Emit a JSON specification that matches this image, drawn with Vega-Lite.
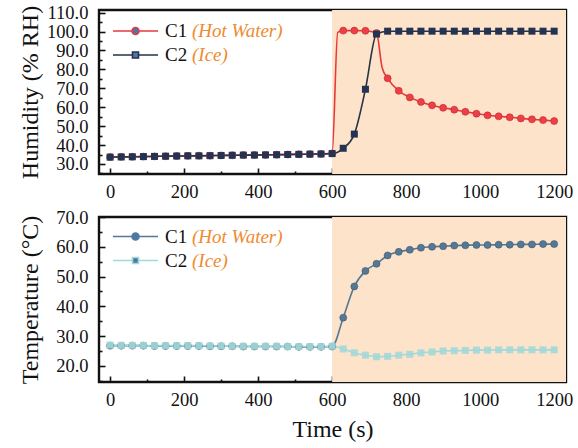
{
  "$schema": "https://vega.github.io/schema/vega-lite/v6.json",
  "padding": {"top": 2, "left": 17, "right": 6, "bottom": 2},
  "config": {
    "font": "Liberation Serif",
    "view": {"stroke": "#111111", "strokeWidth": 2.4},
    "axis": {
      "labelFont": "Liberation Serif", "labelFontSize": 18.5, "labelColor": "#111111",
      "titleFont": "Liberation Serif", "titleFontSize": 24, "titleFontWeight": "normal", "titleColor": "#111111",
      "domain": false, "grid": false, "tickColor": "#111111", "tickWidth": 1.6,
      "labelPadding": 14, "zindex": 1
    },
    "legend": {"labelFont": "Liberation Serif", "labelFontSize": 19, "labelColor": "#111111", "padding": 0}
  },
  "datasets": {
    "shade": [{"start": 600}],
    "keys": [{"key": "C1", "note": "(Hot Water)"}, {"key": "C2", "note": "(Ice)"}],
    "hum": [
      {"series": "C1", "t": 0, "v": 33.7}, {"series": "C1", "t": 30, "v": 33.8}, {"series": "C1", "t": 60, "v": 33.8},
      {"series": "C1", "t": 90, "v": 33.9}, {"series": "C1", "t": 120, "v": 34.0}, {"series": "C1", "t": 150, "v": 34.1},
      {"series": "C1", "t": 180, "v": 34.2}, {"series": "C1", "t": 210, "v": 34.3}, {"series": "C1", "t": 240, "v": 34.4},
      {"series": "C1", "t": 270, "v": 34.4}, {"series": "C1", "t": 300, "v": 34.5}, {"series": "C1", "t": 330, "v": 34.6},
      {"series": "C1", "t": 360, "v": 34.7}, {"series": "C1", "t": 390, "v": 34.8}, {"series": "C1", "t": 420, "v": 34.8},
      {"series": "C1", "t": 450, "v": 34.9}, {"series": "C1", "t": 480, "v": 35.0}, {"series": "C1", "t": 510, "v": 35.1},
      {"series": "C1", "t": 540, "v": 35.2}, {"series": "C1", "t": 570, "v": 35.3}, {"series": "C1", "t": 600, "v": 35.6},
      {"series": "C1", "t": 615, "v": 99.6}, {"series": "C1", "t": 630, "v": 100.5}, {"series": "C1", "t": 660, "v": 100.5},
      {"series": "C1", "t": 690, "v": 100.4}, {"series": "C1", "t": 720, "v": 99.2}, {"series": "C1", "t": 735, "v": 81.0},
      {"series": "C1", "t": 750, "v": 75.3}, {"series": "C1", "t": 780, "v": 68.7}, {"series": "C1", "t": 810, "v": 65.2},
      {"series": "C1", "t": 840, "v": 62.8}, {"series": "C1", "t": 870, "v": 61.0}, {"series": "C1", "t": 900, "v": 59.7},
      {"series": "C1", "t": 930, "v": 58.7}, {"series": "C1", "t": 960, "v": 57.6}, {"series": "C1", "t": 990, "v": 56.6},
      {"series": "C1", "t": 1020, "v": 55.7}, {"series": "C1", "t": 1050, "v": 55.2}, {"series": "C1", "t": 1080, "v": 54.7},
      {"series": "C1", "t": 1110, "v": 54.1}, {"series": "C1", "t": 1140, "v": 53.6}, {"series": "C1", "t": 1170, "v": 53.2},
      {"series": "C1", "t": 1200, "v": 52.7},
      {"series": "C2", "t": 0, "v": 33.6}, {"series": "C2", "t": 30, "v": 33.7}, {"series": "C2", "t": 60, "v": 33.8},
      {"series": "C2", "t": 90, "v": 33.9}, {"series": "C2", "t": 120, "v": 34.0}, {"series": "C2", "t": 150, "v": 34.1},
      {"series": "C2", "t": 180, "v": 34.2}, {"series": "C2", "t": 210, "v": 34.3}, {"series": "C2", "t": 240, "v": 34.3},
      {"series": "C2", "t": 270, "v": 34.4}, {"series": "C2", "t": 300, "v": 34.5}, {"series": "C2", "t": 330, "v": 34.6},
      {"series": "C2", "t": 360, "v": 34.7}, {"series": "C2", "t": 390, "v": 34.7}, {"series": "C2", "t": 420, "v": 34.8},
      {"series": "C2", "t": 450, "v": 34.9}, {"series": "C2", "t": 480, "v": 35.0}, {"series": "C2", "t": 510, "v": 35.1},
      {"series": "C2", "t": 540, "v": 35.2}, {"series": "C2", "t": 570, "v": 35.3}, {"series": "C2", "t": 600, "v": 35.5},
      {"series": "C2", "t": 630, "v": 38.3}, {"series": "C2", "t": 660, "v": 45.8}, {"series": "C2", "t": 690, "v": 69.5},
      {"series": "C2", "t": 720, "v": 98.7}, {"series": "C2", "t": 750, "v": 100.2}, {"series": "C2", "t": 780, "v": 100.2},
      {"series": "C2", "t": 810, "v": 100.2}, {"series": "C2", "t": 840, "v": 100.2}, {"series": "C2", "t": 870, "v": 100.2},
      {"series": "C2", "t": 900, "v": 100.2}, {"series": "C2", "t": 930, "v": 100.2}, {"series": "C2", "t": 960, "v": 100.2},
      {"series": "C2", "t": 990, "v": 100.2}, {"series": "C2", "t": 1020, "v": 100.2}, {"series": "C2", "t": 1050, "v": 100.2},
      {"series": "C2", "t": 1080, "v": 100.2}, {"series": "C2", "t": 1110, "v": 100.2}, {"series": "C2", "t": 1140, "v": 100.2},
      {"series": "C2", "t": 1170, "v": 100.2}, {"series": "C2", "t": 1200, "v": 100.2}
    ],
    "temp": [
      {"series": "C1", "t": 0, "v": 26.8}, {"series": "C1", "t": 30, "v": 26.8}, {"series": "C1", "t": 60, "v": 26.8},
      {"series": "C1", "t": 90, "v": 26.8}, {"series": "C1", "t": 120, "v": 26.7}, {"series": "C1", "t": 150, "v": 26.7},
      {"series": "C1", "t": 180, "v": 26.7}, {"series": "C1", "t": 210, "v": 26.7}, {"series": "C1", "t": 240, "v": 26.7},
      {"series": "C1", "t": 270, "v": 26.6}, {"series": "C1", "t": 300, "v": 26.6}, {"series": "C1", "t": 330, "v": 26.6},
      {"series": "C1", "t": 360, "v": 26.5}, {"series": "C1", "t": 390, "v": 26.5}, {"series": "C1", "t": 420, "v": 26.5},
      {"series": "C1", "t": 450, "v": 26.5}, {"series": "C1", "t": 480, "v": 26.5}, {"series": "C1", "t": 510, "v": 26.4},
      {"series": "C1", "t": 540, "v": 26.4}, {"series": "C1", "t": 570, "v": 26.4}, {"series": "C1", "t": 600, "v": 26.5},
      {"series": "C1", "t": 630, "v": 36.2}, {"series": "C1", "t": 660, "v": 46.7}, {"series": "C1", "t": 690, "v": 51.9},
      {"series": "C1", "t": 720, "v": 54.3}, {"series": "C1", "t": 750, "v": 57.1}, {"series": "C1", "t": 780, "v": 58.3},
      {"series": "C1", "t": 810, "v": 59.0}, {"series": "C1", "t": 840, "v": 59.7}, {"series": "C1", "t": 870, "v": 60.0},
      {"series": "C1", "t": 900, "v": 60.2}, {"series": "C1", "t": 930, "v": 60.4}, {"series": "C1", "t": 960, "v": 60.5},
      {"series": "C1", "t": 990, "v": 60.6}, {"series": "C1", "t": 1020, "v": 60.6}, {"series": "C1", "t": 1050, "v": 60.7},
      {"series": "C1", "t": 1080, "v": 60.7}, {"series": "C1", "t": 1110, "v": 60.8}, {"series": "C1", "t": 1140, "v": 60.8},
      {"series": "C1", "t": 1170, "v": 60.9}, {"series": "C1", "t": 1200, "v": 60.9},
      {"series": "C2", "t": 0, "v": 27.0}, {"series": "C2", "t": 30, "v": 26.9}, {"series": "C2", "t": 60, "v": 26.9},
      {"series": "C2", "t": 90, "v": 26.9}, {"series": "C2", "t": 120, "v": 26.8}, {"series": "C2", "t": 150, "v": 26.8},
      {"series": "C2", "t": 180, "v": 26.8}, {"series": "C2", "t": 210, "v": 26.8}, {"series": "C2", "t": 240, "v": 26.8},
      {"series": "C2", "t": 270, "v": 26.7}, {"series": "C2", "t": 300, "v": 26.7}, {"series": "C2", "t": 330, "v": 26.6},
      {"series": "C2", "t": 360, "v": 26.6}, {"series": "C2", "t": 390, "v": 26.6}, {"series": "C2", "t": 420, "v": 26.6},
      {"series": "C2", "t": 450, "v": 26.6}, {"series": "C2", "t": 480, "v": 26.5}, {"series": "C2", "t": 510, "v": 26.5},
      {"series": "C2", "t": 540, "v": 26.5}, {"series": "C2", "t": 570, "v": 26.5}, {"series": "C2", "t": 600, "v": 26.6},
      {"series": "C2", "t": 630, "v": 25.7}, {"series": "C2", "t": 660, "v": 24.4}, {"series": "C2", "t": 690, "v": 23.6},
      {"series": "C2", "t": 720, "v": 23.1}, {"series": "C2", "t": 750, "v": 23.2}, {"series": "C2", "t": 780, "v": 23.6},
      {"series": "C2", "t": 810, "v": 23.9}, {"series": "C2", "t": 840, "v": 24.4}, {"series": "C2", "t": 870, "v": 24.7},
      {"series": "C2", "t": 900, "v": 25.0}, {"series": "C2", "t": 930, "v": 25.1}, {"series": "C2", "t": 960, "v": 25.2},
      {"series": "C2", "t": 990, "v": 25.3}, {"series": "C2", "t": 1020, "v": 25.3}, {"series": "C2", "t": 1050, "v": 25.4},
      {"series": "C2", "t": 1080, "v": 25.4}, {"series": "C2", "t": 1110, "v": 25.4}, {"series": "C2", "t": 1140, "v": 25.4},
      {"series": "C2", "t": 1170, "v": 25.4}, {"series": "C2", "t": 1200, "v": 25.4}
    ]
  },
  "spacing": 4,
  "resolve": {
    "scale": {"shape": "independent", "fill": "independent", "stroke": "independent", "size": "independent"}
  },
  "vconcat": [
    {
      "width": 467, "height": 164,
      "resolve": {"axis": {"x": "independent", "y": "independent"}},
      "layer": [
        {
          "data": {"name": "shade"},
          "mark": {"type": "rect", "color": "#fde3ca"},
          "encoding": {
            "x": {"field": "start", "type": "quantitative", "scale": {"domain": [-30, 1232], "nice": false, "zero": false},
              "axis": {"orient": "bottom", "title": null, "values": [100,300,500,700,900,1100], "labels": false, "tickSize": -3}},
            "x2": {"value": "width"}
          }
        },
        {
          "data": {"name": "hum"},
          "transform": [{"filter": "datum.series === 'C1'"}],
          "mark": {"type": "line", "strokeWidth": 1.6, "interpolate": "monotone", "color": "#e8383d"},
          "encoding": {
            "x": {"field": "t", "type": "quantitative", "scale": {"domain": [-30, 1232], "nice": false, "zero": false},
              "axis": {"orient": "bottom", "title": null, "values": [0,200,400,600,800,1000,1200], "format": "d", "tickSize": -6, "labelPadding": 14}},
            "y": {"field": "v", "type": "quantitative", "scale": {"domain": [24.7, 111.4], "nice": false, "zero": false},
              "axis": {"orient": "left", "title": "Humidity (% RH)", "values": [30,40,50,60,70,80,90,100,110], "format": ".1f", "tickSize": -6, "labelPadding": 17, "titlePadding": 4}}
          }
        },
        {
          "data": {"name": "hum"},
          "transform": [{"filter": "datum.series === 'C2'"}],
          "mark": {"type": "line", "strokeWidth": 1.6, "interpolate": "monotone", "color": "#2a3246"},
          "encoding": {
            "x": {"field": "t", "type": "quantitative", "axis": null},
            "y": {"field": "v", "type": "quantitative", "axis": null}
          }
        },
        {
          "data": {"name": "hum"},
          "transform": [{"filter": "datum.t % 30 === 0 && datum.series === 'C1'"}],
          "mark": {"type": "point", "shape": "circle", "filled": true, "size": 49, "opacity": 1, "color": "#ea4046", "stroke": "#c8262c", "strokeWidth": 0.6},
          "encoding": {
            "x": {"field": "t", "type": "quantitative", "axis": null},
            "y": {"field": "v", "type": "quantitative",
              "axis": {"orient": "left", "title": null, "values": [25,35,45,55,65,75,85,95,105], "labels": false, "tickSize": -3}}
          }
        },
        {
          "data": {"name": "hum"},
          "transform": [{"filter": "datum.t % 30 === 0 && datum.series === 'C2'"}],
          "mark": {"type": "point", "shape": "square", "filled": true, "size": 49, "opacity": 1, "color": "#243352"},
          "encoding": {
            "x": {"field": "t", "type": "quantitative", "axis": null},
            "y": {"field": "v", "type": "quantitative", "axis": null}
          }
        },
        {
          "data": {"name": "keys"},
          "mark": {"type": "point", "filled": true, "opacity": 0},
          "encoding": {
            "shape": {"field": "key", "type": "nominal", "scale": {"domain": ["C1", "C2"], "range": ["M-4.5,0H-0.7M0.7,0H4.5M-0.7,0A0.7,0.7 0 1 0 0.7,0A0.7,0.7 0 1 0 -0.7,0Z", "M-4.5,0H-0.6M0.6,0H4.5M-0.6,-0.6H0.6V0.6H-0.6Z"]},
              "legend": {"orient": "none", "legendX": 27, "legendY": 11.5, "title": null, "symbolSize": 100, "rowPadding": 4, "labelOffset": 20, "symbolStrokeWidth": 1.6, "symbolOpacity": 1,
                "encode": {"symbols": {"update": {"fill": {"signal": "datum.value === 'C1' ? '#ea4046' : '#243352'"}}}}}},
            "stroke": {"field": "key", "type": "nominal", "scale": {"domain": ["C1", "C2"], "range": ["#e8383d", "#27324a"]},
              "legend": {"orient": "none", "legendX": 27, "legendY": 11.5, "title": null, "symbolSize": 100, "rowPadding": 4, "labelOffset": 20, "symbolStrokeWidth": 1.6, "symbolOpacity": 1,
                "encode": {"symbols": {"update": {"fill": {"signal": "datum.value === 'C1' ? '#ea4046' : '#243352'"}}}}}},
            "size": {"field": "note", "type": "nominal", "scale": {"domain": ["(Hot Water)", "(Ice)"], "range": [100, 101]},
              "legend": {"orient": "none", "legendX": 70, "legendY": 11.5, "title": null, "rowPadding": 4, "labelOffset": 4, "symbolOpacity": 0, "labelColor": "#f08a30", "labelFontStyle": "italic"}}
          }
        }
      ]
    },
    {
      "width": 467, "height": 165,
      "resolve": {"axis": {"x": "independent", "y": "independent"}},
      "layer": [
        {
          "data": {"name": "shade"},
          "mark": {"type": "rect", "color": "#fde3ca"},
          "encoding": {
            "x": {"field": "start", "type": "quantitative", "scale": {"domain": [-30, 1232], "nice": false, "zero": false},
              "axis": {"orient": "bottom", "title": null, "values": [100,300,500,700,900,1100], "labels": false, "tickSize": -3}},
            "x2": {"value": "width"}
          }
        },
        {
          "data": {"name": "temp"},
          "transform": [{"filter": "datum.series === 'C1'"}],
          "mark": {"type": "line", "strokeWidth": 1.6, "interpolate": "monotone", "color": "#557894"},
          "encoding": {
            "x": {"field": "t", "type": "quantitative", "scale": {"domain": [-30, 1232], "nice": false, "zero": false},
              "axis": {"orient": "bottom", "title": "Time (s)", "titlePadding": 9, "values": [0,200,400,600,800,1000,1200], "format": "d", "tickSize": -6, "labelPadding": 14}},
            "y": {"field": "v", "type": "quantitative", "scale": {"domain": [14.6, 70], "nice": false, "zero": false},
              "axis": {"orient": "left", "title": "Temperature (°C)", "values": [20,30,40,50,60,70], "format": ".1f", "tickSize": -6, "labelPadding": 17, "titlePadding": 13}}
          }
        },
        {
          "data": {"name": "temp"},
          "transform": [{"filter": "datum.series === 'C2'"}],
          "mark": {"type": "line", "strokeWidth": 1.6, "interpolate": "monotone", "color": "#a3d8d8"},
          "encoding": {
            "x": {"field": "t", "type": "quantitative", "axis": null},
            "y": {"field": "v", "type": "quantitative", "axis": null}
          }
        },
        {
          "data": {"name": "temp"},
          "transform": [{"filter": "datum.t % 30 === 0 && datum.series === 'C1'"}],
          "mark": {"type": "point", "shape": "circle", "filled": true, "size": 49, "opacity": 1, "color": "#557894", "stroke": "#3c5a72", "strokeWidth": 0.6},
          "encoding": {
            "x": {"field": "t", "type": "quantitative", "axis": null},
            "y": {"field": "v", "type": "quantitative",
              "axis": {"orient": "left", "title": null, "values": [15,25,35,45,55,65], "labels": false, "tickSize": -3}}
          }
        },
        {
          "data": {"name": "temp"},
          "transform": [{"filter": "datum.t % 30 === 0 && datum.series === 'C2'"}],
          "mark": {"type": "point", "shape": "square", "filled": true, "size": 49, "opacity": 0.9, "color": "#a3d8d8"},
          "encoding": {
            "x": {"field": "t", "type": "quantitative", "axis": null},
            "y": {"field": "v", "type": "quantitative", "axis": null}
          }
        },
        {
          "data": {"name": "keys"},
          "mark": {"type": "point", "filled": true, "opacity": 0},
          "encoding": {
            "shape": {"field": "key", "type": "nominal", "scale": {"domain": ["C1", "C2"], "range": ["M-4.5,0H-0.7M0.7,0H4.5M-0.7,0A0.7,0.7 0 1 0 0.7,0A0.7,0.7 0 1 0 -0.7,0Z", "M-4.5,0H-0.6M0.6,0H4.5M-0.6,-0.6H0.6V0.6H-0.6Z"]},
              "legend": {"orient": "none", "legendX": 27, "legendY": 10, "title": null, "symbolSize": 100, "rowPadding": 4, "labelOffset": 20, "symbolStrokeWidth": 1.6, "symbolOpacity": 1,
                "encode": {"symbols": {"update": {"fill": {"signal": "datum.value === 'C1' ? '#4f7aa0' : '#a3d8d8'"}}}}}},
            "stroke": {"field": "key", "type": "nominal", "scale": {"domain": ["C1", "C2"], "range": ["#4f7aa0", "#a3d8d8"]},
              "legend": {"orient": "none", "legendX": 27, "legendY": 10, "title": null, "symbolSize": 100, "rowPadding": 4, "labelOffset": 20, "symbolStrokeWidth": 1.6, "symbolOpacity": 1,
                "encode": {"symbols": {"update": {"fill": {"signal": "datum.value === 'C1' ? '#4f7aa0' : '#a3d8d8'"}}}}}},
            "size": {"field": "note", "type": "nominal", "scale": {"domain": ["(Hot Water)", "(Ice)"], "range": [100, 101]},
              "legend": {"orient": "none", "legendX": 70, "legendY": 10, "title": null, "rowPadding": 4, "labelOffset": 4, "symbolOpacity": 0, "labelColor": "#f08a30", "labelFontStyle": "italic"}}
          }
        }
      ]
    }
  ]
}
